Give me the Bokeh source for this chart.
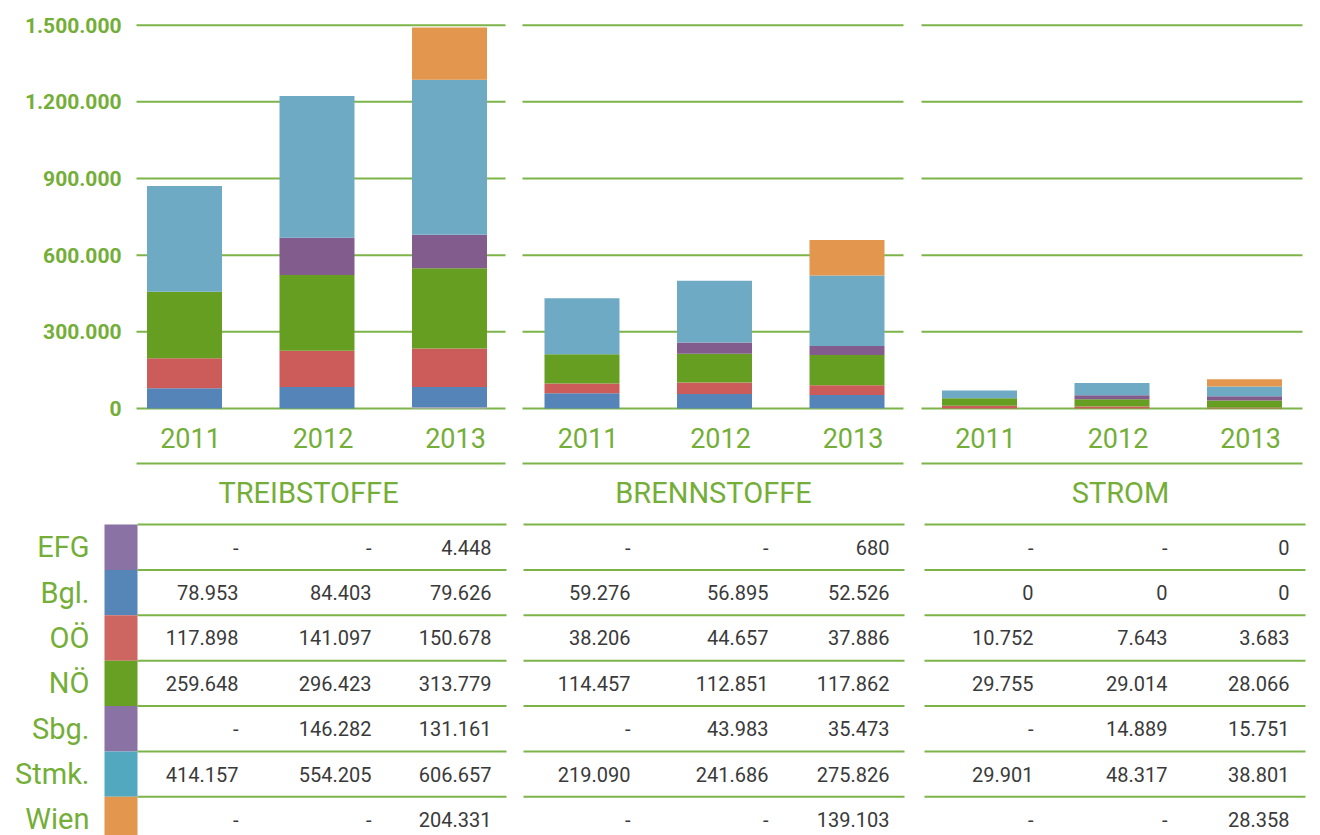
from bokeh.plotting import figure
from bokeh.models import Range1d, ColumnDataSource, Grid
from bokeh.core.properties import value
from bokeh.embed import file_html
from bokeh.resources import INLINE

# ---------------- data ----------------
categories = ["TREIBSTOFFE", "BRENNSTOFFE", "STROM"]
years = ["2011", "2012", "2013"]
regions = ["EFG", "Bgl.", "OÖ", "NÖ", "Sbg.", "Stmk.", "Wien"]
y_ticks = [0, 300000, 600000, 900000, 1200000, 1500000]

# order inside each list: TREIB 2011-2013, BRENN 2011-2013, STROM 2011-2013 ; None = "-"
efg = [None, None, 4448, None, None, 680, None, None, 0]
bgl = [78953, 84403, 79626, 59276, 56895, 52526, 0, 0, 0]
ooe = [117898, 141097, 150678, 38206, 44657, 37886, 10752, 7643, 3683]
noe = [259648, 296423, 313779, 114457, 112851, 117862, 29755, 29014, 28066]
sbg = [None, 146282, 131161, None, 43983, 35473, None, 14889, 15751]
stmk = [414157, 554205, 606657, 219090, 241686, 275826, 29901, 48317, 38801]
wien = [None, None, 204331, None, None, 139103, None, None, 28358]

series = [efg, bgl, ooe, noe, sbg, stmk, wien]
keys = ["efg", "bgl", "ooe", "noe", "sbg", "stmk", "wien"]

# ---------------- styles ----------------
bar_colors = ["#baa4cc", "#5585b8", "#cc5c5a", "#669e22", "#815c8c", "#6faac4", "#e2964e"]
swatch_colors = ["#8a72a4", "#5686b8", "#cd6561", "#68a023", "#8a72a4", "#52a8bf", "#e2964e"]
GREEN_TXT = "#74ae38"
GREEN_LINE = "#7db44a"
DARK = "#3a3a3a"
FONT = "Roboto"

# ---------------- layout (picture pixels) ----------------
W, H = 1320, 835
PAGE_L, PAGE_T = 0, 0
BAR0_X, BAR_STEP = 184.0, 132.5
ZERO_Y, PX_PER_300K = 408.0, 76.667
K = 300000.0 / PX_PER_300K
ROW_TOP, ROW_H = 524.0, 45.38

panel_x = [(136, 505), (522, 903), (921, 1302)]
table_x = [(137, 506), (523, 904), (924, 1305)]
col_right = [[238, 371, 491], [630, 768, 889], [1033, 1167, 1289]]
title_cx = [308, 713, 1120]

x_lo = (PAGE_L - BAR0_X) / BAR_STEP
x_hi = (PAGE_L + W - BAR0_X) / BAR_STEP
y_lo = -(PAGE_T + H - ZERO_Y) * K
y_hi = (ZERO_Y - PAGE_T) * K

p = figure(width=W, height=H, output_backend="svg", toolbar_location=None,
           x_axis_location=None, y_axis_location=None, min_border=0,
           outline_line_color=None, x_range=Range1d(x_lo, x_hi),
           y_range=Range1d(y_lo, y_hi), background_fill_color="white",
           border_fill_color="white")
p.center = [r for r in p.center if not isinstance(r, Grid)]
p.extra_x_ranges = {"px": Range1d(PAGE_L, PAGE_L + W)}
p.extra_y_ranges = {
    "py": Range1d(PAGE_T + H, PAGE_T),
    "row": Range1d((PAGE_T + H - ROW_TOP) / ROW_H, (PAGE_T - ROW_TOP) / ROW_H),
}

# gridlines per panel
gx0, gx1, gy = [], [], []
for (a, b) in panel_x:
    for t in y_ticks:
        gx0.append(a); gx1.append(b); gy.append(t)
p.segment(x0=gx0, x1=gx1, y0=gy, y1=gy, x_range_name="px",
          line_color=GREEN_LINE, line_width=2)

# y tick labels
p.text(x=[121] * len(y_ticks), y=y_ticks,
       text=[f"{t:,}".replace(",", ".") for t in y_ticks],
       x_range_name="px", text_align="right", text_baseline="middle",
       text_font=value(FONT), text_font_style="bold", text_font_size="21px",
       text_color=GREEN_TXT)

# stacked bars
n = len(categories) * len(years)
data = {"x": list(range(n))}
for k, s in zip(keys, series):
    data[k] = [v if v is not None else 0 for v in s]
src = ColumnDataSource(data)
p.vbar_stack(keys, x="x", width=0.566, color=bar_colors, line_color=None, source=src)

# year labels
p.text(x=list(range(n)), y=[437] * n, text=years * len(categories),
       y_range_name="py", x_offset=6, text_align="center", text_baseline="middle",
       text_font=value(FONT), text_font_size="27px", text_color=GREEN_TXT)

# line below year labels
p.segment(x0=[a for a, b in panel_x], x1=[b for a, b in panel_x],
          y0=[463] * 3, y1=[463] * 3, x_range_name="px", y_range_name="py",
          line_color=GREEN_LINE, line_width=2)

# panel titles
p.text(x=title_cx, y=[492] * 3, text=categories, x_range_name="px", y_range_name="py",
       text_align="center", text_baseline="middle", text_font=value(FONT),
       text_font_size="29px", text_color=GREEN_TXT)

# table lines
tx0, tx1, ty = [], [], []
for (a, b) in table_x:
    for r in range(len(regions)):
        tx0.append(a); tx1.append(b); ty.append(r)
p.segment(x0=tx0, x1=tx1, y0=ty, y1=ty, x_range_name="px", y_range_name="row",
          line_color=GREEN_LINE, line_width=2)

# swatches
rows = list(range(len(regions)))
p.quad(left=[104] * len(rows), right=[137] * len(rows), top=rows,
       bottom=[r + 1 for r in rows], color=swatch_colors, line_color=None,
       x_range_name="px", y_range_name="row")

# row labels
p.text(x=[89] * len(rows), y=[r + 0.5 for r in rows], text=regions,
       x_range_name="px", y_range_name="row", text_align="right",
       text_baseline="middle", text_font=value(FONT), text_font_size="29px",
       text_color=GREEN_TXT)

# table values
vx, vy, vt = [], [], []
for r, s in enumerate(series):
    for i, v in enumerate(s):
        c, yi = divmod(i, 3)
        vx.append(col_right[c][yi])
        vy.append(r + 0.5)
        vt.append("-" if v is None else f"{v:,}".replace(",", "."))
p.text(x=vx, y=vy, text=vt, x_range_name="px", y_range_name="row",
       text_align="right", text_baseline="middle", text_font=value(FONT),
       text_font_size="20px", text_color=DARK)

open("out.html", "w").write(file_html(p, INLINE))
